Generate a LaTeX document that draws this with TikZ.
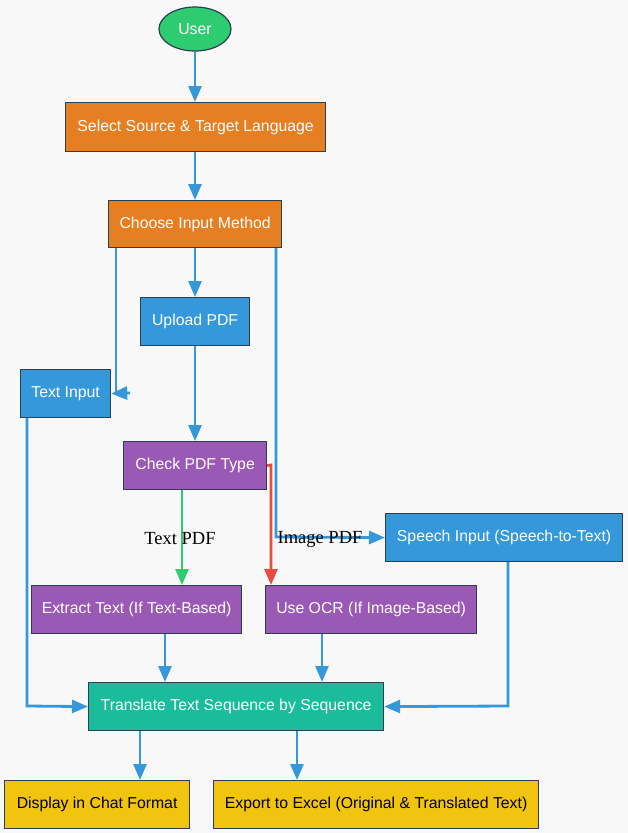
\documentclass[tikz,border=0pt]{standalone}
\usepackage{fontspec}
\setmainfont{Liberation Sans}
\newfontfamily\labfont{Liberation Serif}
\usetikzlibrary{arrows.meta,shapes.geometric}
\definecolor{bg}{HTML}{F8F8F8}
\definecolor{cgreen}{HTML}{2ECC71}
\definecolor{corange}{HTML}{E67E22}
\definecolor{cblue}{HTML}{3498DB}
\definecolor{cpurple}{HTML}{9B59B6}
\definecolor{cteal}{HTML}{1ABC9C}
\definecolor{cyellow}{HTML}{F1C40F}
\definecolor{cborder}{HTML}{2C3E50}
\definecolor{cred}{HTML}{E74C3C}
\definecolor{cgreenedge}{HTML}{2ECC71}
\tikzset{
  box/.style={draw=cborder, line width=1.2pt, text=white, font=\fontsize{15.8}{18}\selectfont, inner sep=0pt, anchor=north west},
  edge/.style={draw=cblue, line width=2.8pt, -{Triangle[length=16pt,width=13pt]}},
  plain/.style={draw=cblue, line width=2.8pt},
  elabel/.style={font=\labfont\fontsize{18.5}{20}\selectfont, text=black, inner sep=0pt}
}
\begin{document}
\begin{tikzpicture}[x=1pt,y=-1pt]
\fill[bg] (0,0) rectangle (628,833);
\useasboundingbox (0,0) rectangle (628,833);
% nodes
\node[ellipse, draw=cborder, line width=1.2pt, fill=cgreen, text=white, font=\fontsize{15.8}{18}\selectfont, minimum width=72pt, minimum height=44pt, inner sep=0pt] (user) at (195,29) {User};
\node[box, fill=corange, minimum width=260pt, minimum height=49pt] (select) at (65,102) {Select Source \& Target Language};
\node[box, fill=corange, minimum width=173pt, minimum height=47pt] (choose) at (108,200) {Choose Input Method};
\node[box, fill=cblue, minimum width=109pt, minimum height=48pt] (upload) at (140,297) {Upload PDF};
\node[box, fill=cblue, minimum width=90pt, minimum height=48pt] (textin) at (20,369) {Text Input};
\node[box, fill=cpurple, minimum width=143pt, minimum height=48pt] (check) at (123,441) {Check PDF Type};
\node[box, fill=cblue, minimum width=237pt, minimum height=48pt] (speech) at (385,513) {Speech Input (Speech-to-Text)};
\node[box, fill=cpurple, minimum width=210pt, minimum height=48pt] (extract) at (31,585) {Extract Text (If Text-Based)};
\node[box, fill=cpurple, minimum width=211pt, minimum height=48pt] (ocr) at (265,585) {Use OCR (If Image-Based)};
\node[box, fill=cteal, minimum width=295pt, minimum height=48pt] (trans) at (88,682) {Translate Text Sequence by Sequence};
\node[box, fill=cyellow, text=black, minimum width=185pt, minimum height=48pt] (disp) at (4,780) {Display in Chat Format};
\node[box, fill=cyellow, text=black, minimum width=325pt, minimum height=48pt] (export) at (213,780) {Export to Excel (Original \& Translated Text)};
% coordinates
\coordinate (c1) at (116,393);
\coordinate (c2) at (130,393);
\coordinate (c3) at (276,537);
\coordinate (c4) at (271,465);
\coordinate (c5) at (27,706);
\coordinate (c6) at (508,706);
% edges
\draw[edge] (user.south) -- (select.north -| user.south);
\draw[edge] (select.south -| user.south) -- (choose.north -| user.south);
\draw[edge] (choose.south -| user.south) -- (upload.north -| user.south);
\draw[plain] (choose.south -| c1) -- (c1);
\draw[edge] (c2) -- (textin.east);
\draw[edge] (upload.south -| user.south) -- (check.north -| user.south);
\draw[edge] (choose.south -| c3) -- (c3) -- (speech.west);
\draw[edge, draw=cgreenedge] (check.south -| 182,0) -- (extract.north -| 182,0);
\draw[edge, draw=cred] (check.east) -- (c4) -- (ocr.north -| c4);
\draw[edge] (textin.south -| c5) -- (c5) -- (trans.west);
\draw[edge] (extract.south -| 165,0) -- (trans.north -| 165,0);
\draw[edge] (ocr.south -| 322,0) -- (trans.north -| 322,0);
\draw[edge] (speech.south -| c6) -- (c6) -- (trans.east);
\draw[edge] (trans.south -| 140,0) -- (disp.north -| 140,0);
\draw[edge] (trans.south -| 297,0) -- (export.north -| 297,0);
% labels
\node[elabel] (l1) at (180,539) {Text PDF};
\node[elabel] (l2) at (320,539) {Image PDF};
\end{tikzpicture}
\end{document}
